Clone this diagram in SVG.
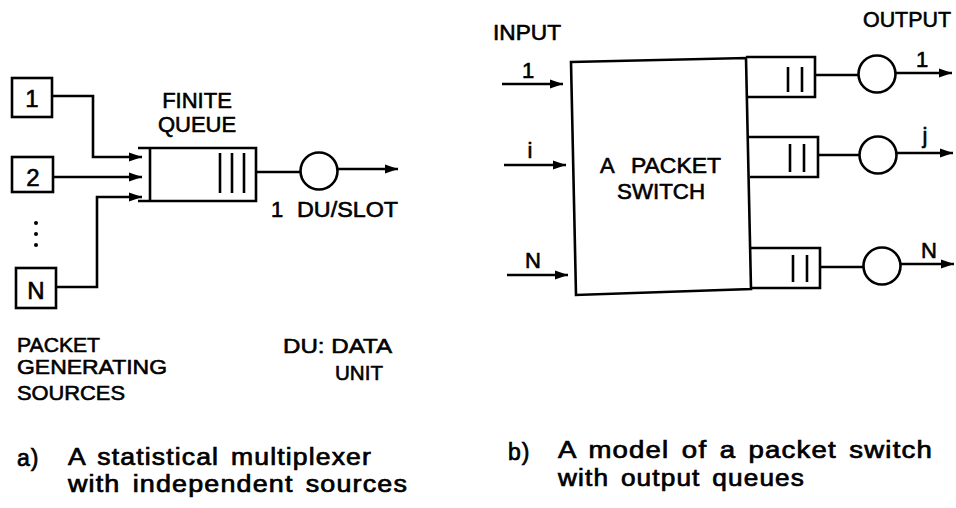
<svg xmlns="http://www.w3.org/2000/svg" width="956" height="508" viewBox="0 0 956 508">
<defs>
<marker id="ah" markerUnits="userSpaceOnUse" markerWidth="14" markerHeight="10" refX="13" refY="5" orient="auto">
<path d="M0,0.5 L13,5 L0,9.5 z" fill="#000"/>
</marker>
<style>
.ln{stroke:#000;stroke-width:2.6;fill:none}
.ar{stroke:#000;stroke-width:2.6;fill:none;marker-end:url(#ah)}
.bx{stroke:#000;stroke-width:2.6;fill:#fff}
.t{font-family:"Liberation Sans",Arial,sans-serif;font-size:22px;fill:#000;stroke:#000;stroke-width:0.6}
.c{text-anchor:middle}
.big{font-size:24px}
.cap{font-size:23px;letter-spacing:1px;word-spacing:3px;stroke-width:0.7}
</style>
</defs>
<rect width="956" height="508" fill="#fff"/>

<!-- Part a) -->
<g id="src1"><rect class="bx" x="12" y="78" width="40" height="39"/><text class="t c big" x="32" y="107">1</text></g>
<g id="src2"><rect class="bx" x="12" y="157" width="41" height="35"/><text class="t c big" x="33" y="186">2</text></g>
<g id="dots"><circle cx="36" cy="223" r="2"/><circle cx="36" cy="234" r="2"/><circle cx="36" cy="245" r="2"/></g>
<g id="srcN"><rect class="bx" x="16" y="268" width="40" height="40"/><text class="t c big" x="36" y="299">N</text></g>

<g id="queueA">
<path class="ln" d="M138,148 H256 V201 H138 M150,148 V201"/>
<path class="ln" d="M220,153 V193 M232,153 V193 M244,153 V193"/>
<text class="t c" x="197" y="108">FINITE</text>
<text class="t c" x="197" y="132">QUEUE</text>
</g>
<g id="serverA"><circle class="ln" cx="319" cy="171" r="18.5"/></g>
<g id="rateA">
<text class="t" x="271" y="217">1</text>
<text class="t" x="297" y="217" textLength="101" lengthAdjust="spacingAndGlyphs">DU/SLOT</text>
</g>

<g id="connectorsA">
<path class="ar" d="M52,96 H93 V157 H142"/>
<path class="ar" d="M53,177 H142"/>
<path class="ar" d="M56,287 H97 V197 H142"/>
<path class="ln" d="M256,172 H300"/>
<path class="ar" d="M338,169 H398"/>
</g>

<g id="labelsA">
<text class="t" x="17" y="352" style="font-size:21px" textLength="83" lengthAdjust="spacingAndGlyphs">PACKET</text>
<text class="t" x="17" y="374" style="font-size:21px" textLength="150" lengthAdjust="spacingAndGlyphs">GENERATING</text>
<text class="t" x="17" y="400" style="font-size:21px" textLength="108" lengthAdjust="spacingAndGlyphs">SOURCES</text>
<text class="t" x="283" y="353" style="font-size:21px" textLength="109" lengthAdjust="spacingAndGlyphs">DU: DATA</text>
<text class="t" x="335" y="380" style="font-size:21px" textLength="48" lengthAdjust="spacingAndGlyphs">UNIT</text>
</g>

<!-- Part b) -->
<text class="t" x="493" y="40" textLength="68" lengthAdjust="spacingAndGlyphs">INPUT</text>
<text class="t" x="863" y="27" textLength="88" lengthAdjust="spacingAndGlyphs">OUTPUT</text>

<g id="switch">
<polygon class="bx" points="571,62 746,58 751,289 576,295"/>
<text class="t" x="600" y="173">A</text>
<text class="t" x="631" y="173" textLength="90" lengthAdjust="spacingAndGlyphs">PACKET</text>
<text class="t" x="617" y="199" textLength="88" lengthAdjust="spacingAndGlyphs">SWITCH</text>
</g>

<g id="oq1">
<path class="ln" d="M746,57 H815 V97 H748"/>
<path class="ln" d="M788,67 V92 M802,67 V92"/>
</g>
<g id="oqj">
<path class="ln" d="M749,137 H818 V177 H750"/>
<path class="ln" d="M790,144 V172 M804,144 V172"/>
</g>
<g id="oqN">
<path class="ln" d="M751,248 H820 V288 H751"/>
<path class="ln" d="M793,255 V282 M807,255 V282"/>
</g>
<g id="srv1"><circle class="ln" cx="877" cy="74" r="18.5"/></g>
<g id="srvj"><circle class="ln" cx="878" cy="155" r="18.5"/></g>
<g id="srvN"><circle class="ln" cx="882" cy="266" r="18.5"/></g>

<g id="connectorsB">
<path class="ar" d="M502,84 H563"/>
<path class="ar" d="M504,165 H566"/>
<path class="ar" d="M507,275 H568"/>
<path class="ln" d="M815,75 H858"/>
<path class="ln" d="M818,155 H859"/>
<path class="ln" d="M820,267 H863"/>
<path class="ar" d="M895,73 H952"/>
<path class="ar" d="M896,153 H953"/>
<path class="ar" d="M900,264 H954"/>
</g>
<g id="labelsB">
<text class="t c" x="528" y="78">1</text>
<text class="t c" x="530" y="158">i</text>
<text class="t c" x="533" y="268">N</text>
<text class="t c" x="922" y="67">1</text>
<text class="t c" x="925" y="143">j</text>
<text class="t c" x="929" y="258">N</text>
</g>

<!-- Captions -->
<g id="captionA">
<text class="t cap" x="17" y="466">a)</text>
<text class="t cap" x="68" y="465" textLength="304" lengthAdjust="spacingAndGlyphs">A statistical multiplexer</text>
<text class="t cap" x="68" y="492" textLength="340" lengthAdjust="spacingAndGlyphs">with independent sources</text>
</g>
<g id="captionB">
<text class="t cap" x="508" y="460">b)</text>
<text class="t cap" x="558" y="458" textLength="375" lengthAdjust="spacingAndGlyphs">A model of a packet switch</text>
<text class="t cap" x="558" y="486" textLength="247" lengthAdjust="spacingAndGlyphs">with output queues</text>
</g>
</svg>
